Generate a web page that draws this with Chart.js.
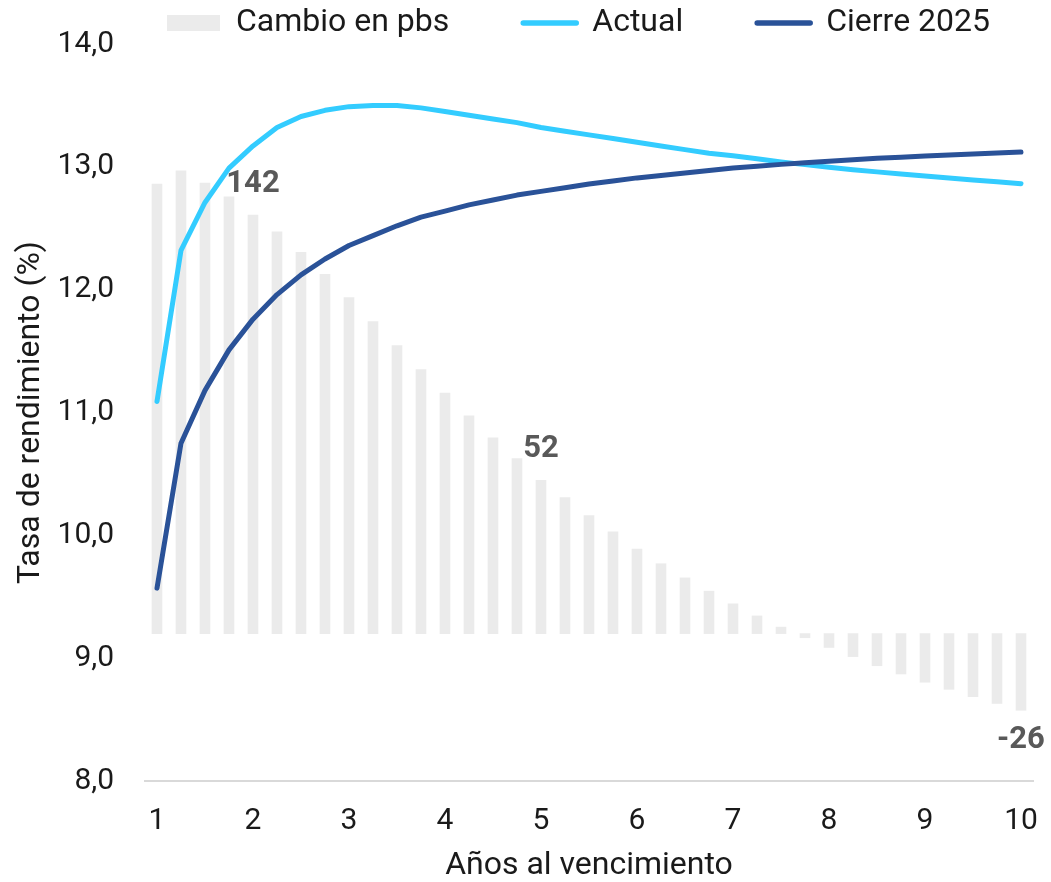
<!DOCTYPE html>
<html>
<head>
<meta charset="utf-8">
<script src="https://cdn.jsdelivr.net/npm/chart.js@4.4.1/dist/chart.umd.min.js"></script>
<style>
  html, body { margin: 0; padding: 0; background: #ffffff; }
  #wrap { width: 1051px; height: 882px; }
</style>
</head>
<body>
<div id="wrap"><canvas id="c" width="1051" height="882"></canvas></div>
<script>
// ---- Data ----
const categories = ['1','1.25','1.5','1.75','2','2.25','2.5','2.75','3','3.25','3.5','3.75',
  '4','4.25','4.5','4.75','5','5.25','5.5','5.75','6','6.25','6.5','6.75',
  '7','7.25','7.5','7.75','8','8.25','8.5','8.75','9','9.25','9.5','9.75','10'];

const xTickLabels = ['1','2','3','4','5','6','7','8','9','10'];

const cambioPbs = [152.5, 157, 152.8, 148.2, 142, 136.3, 129.3, 121.9, 114, 105.8, 97.7, 89.6,
  81.6, 73.9, 66.4, 59.4, 52, 46.1, 40, 34.5, 28.7, 23.7, 18.9, 14.4,
  10.1, 6, 2.2, -1.4, -4.7, -7.8, -10.9, -13.7, -16.5, -18.9, -21.4, -23.7, -26];

const actual = [11.09, 12.32, 12.71, 12.99, 13.17, 13.32, 13.41, 13.46, 13.49, 13.50, 13.50, 13.48,
  13.45, 13.42, 13.39, 13.36, 13.32, 13.29, 13.26, 13.23, 13.20, 13.17, 13.14, 13.11,
  13.09, 13.065, 13.04, 13.018, 12.996, 12.977, 12.959, 12.942, 12.925, 12.909, 12.893, 12.878, 12.863];

const cierre2025 = [9.57, 10.75, 11.18, 11.51, 11.76, 11.96, 12.12, 12.25, 12.36, 12.44, 12.52, 12.59,
  12.64, 12.69, 12.73, 12.77, 12.80, 12.83, 12.86, 12.885, 12.91, 12.93, 12.95, 12.97,
  12.99, 13.005, 13.02, 13.033, 13.046, 13.058, 13.069, 13.079, 13.088, 13.097, 13.105, 13.113, 13.12];

const labelledCategories = ['2', '5', '10'];
const seriesNames = ['Cambio en pbs', 'Actual', 'Cierre 2025'];
const yTitle = 'Tasa de rendimiento (%)';
const xTitle = 'Años al vencimiento';

// ---- Styles ----
const COL_BAR = '#ebebeb';
const COL_ACTUAL = '#33ccff';
const COL_CIERRE = '#2a5298';
const COL_LABEL = '#595959';
const COL_TEXT = '#1a1a1a';
const FONT = 'Roboto';

Chart.defaults.font.family = FONT;
Chart.defaults.font.size = 30;
Chart.defaults.color = COL_TEXT;

const LEGEND_PAD = 74;
const LEGEND_FONT = 32;

function zeroPadding(scale) {
  scale.paddingLeft = 0;
  scale.paddingRight = 0;
  scale.paddingTop = 0;
  scale.paddingBottom = 0;
}

const legendPlacer = {
  id: 'legendPlacer',
  afterLayout(chart) {
    const lg = chart.legend;
    if (!lg) return;
    lg.left = 167 - LEGEND_PAD;
    lg.right = 5000;
    lg.top = 7 - LEGEND_PAD;
  }
};

const barLabels = {
  id: 'barLabels',
  afterDatasetsDraw(chart) {
    const meta = chart.getDatasetMeta(0);
    const ctx = chart.ctx;
    ctx.save();
    ctx.font = 'bold 31px ' + FONT;
    ctx.fillStyle = COL_LABEL;
    ctx.textAlign = 'center';
    ctx.textBaseline = 'middle';
    labelledCategories.forEach(cat => {
      const i = categories.indexOf(cat);
      const el = meta.data[i];
      const v = cambioPbs[i];
      const y = v >= 0 ? el.y - 31 : el.y + 30;
      ctx.fillText(String(Math.round(v)), el.x, y);
    });
    ctx.restore();
  }
};

new Chart(document.getElementById('c'), {
  type: 'bar',
  data: {
    labels: categories,
    datasets: [
      {
        type: 'bar',
        label: seriesNames[0],
        data: cambioPbs,
        backgroundColor: COL_BAR,
        borderWidth: 0,
        barThickness: 10,
        yAxisID: 'y1',
        order: 3
      },
      {
        type: 'line',
        label: seriesNames[1],
        data: actual,
        borderColor: COL_ACTUAL,
        backgroundColor: COL_ACTUAL,
        borderWidth: 5,
        borderCapStyle: 'round',
        borderJoinStyle: 'round',
        pointRadius: 0,
        tension: 0,
        fill: false,
        yAxisID: 'y',
        order: 2
      },
      {
        type: 'line',
        label: seriesNames[2],
        data: cierre2025,
        borderColor: COL_CIERRE,
        backgroundColor: COL_CIERRE,
        borderWidth: 5,
        borderCapStyle: 'round',
        borderJoinStyle: 'round',
        pointRadius: 0,
        tension: 0,
        fill: false,
        yAxisID: 'y',
        order: 1
      }
    ]
  },
  options: {
    responsive: false,
    animation: false,
    devicePixelRatio: 1,
    layout: { autoPadding: false, padding: { left: 0, right: 18, top: 0, bottom: 0 } },
    plugins: {
      tooltip: { enabled: false },
      legend: {
        display: true,
        position: 'top',
        align: 'start',
        reverse: true,
        maxHeight: 44,
        labels: {
          usePointStyle: true,
          pointStyleWidth: 53,
          boxHeight: 16,
          padding: LEGEND_PAD,
          color: COL_TEXT,
          font: { size: LEGEND_FONT, family: FONT },
          generateLabels(chart) {
            const items = Chart.defaults.plugins.legend.labels.generateLabels(chart);
            return items.map(it => {
              const ds = chart.data.datasets[it.datasetIndex];
              if (ds.type === 'bar') {
                it.pointStyle = 'rect';
                it.fillStyle = COL_BAR;
                it.strokeStyle = COL_BAR;
                it.lineWidth = 0;
              } else {
                it.pointStyle = 'line';
                it.strokeStyle = ds.borderColor;
                it.fillStyle = ds.borderColor;
                it.lineWidth = 5.5;
                it.lineCap = 'round';
              }
              return it;
            });
          }
        }
      }
    },
    scales: {
      x: {
        type: 'category',
        offset: true,
        grid: { display: false, drawTicks: false },
        border: { display: true, color: '#d9d9d9', width: 2 },
        ticks: {
          autoSkip: false,
          maxRotation: 0,
          minRotation: 0,
          padding: 22,
          color: COL_TEXT,
          font: { size: 30 },
          callback: function (value) {
            const lab = this.getLabelForValue(value);
            return xTickLabels.includes(lab) ? lab : '';
          }
        },
        title: {
          display: true,
          text: xTitle,
          color: COL_TEXT,
          font: { size: 32 },
          padding: { top: 0, bottom: -3 }
        },
        afterFit(scale) { scale.height = 101; zeroPadding(scale); }
      },
      y: {
        type: 'linear',
        position: 'left',
        min: 8,
        max: 14,
        grid: { display: false, drawTicks: false },
        border: { display: false },
        ticks: {
          stepSize: 1,
          padding: 31,
          color: COL_TEXT,
          font: { size: 30 },
          callback: v => v.toFixed(1).replace('.', ',')
        },
        title: {
          display: true,
          text: yTitle,
          color: COL_TEXT,
          font: { size: 32 },
          padding: { top: 12, bottom: 0 }
        },
        afterFit(scale) { scale.width = 145; zeroPadding(scale); }
      },
      y1: {
        type: 'linear',
        position: 'right',
        display: false,
        min: -50,
        max: 200,
        grid: { display: false }
      }
    }
  },
  plugins: [legendPlacer, barLabels]
});
</script>
</body>
</html>
